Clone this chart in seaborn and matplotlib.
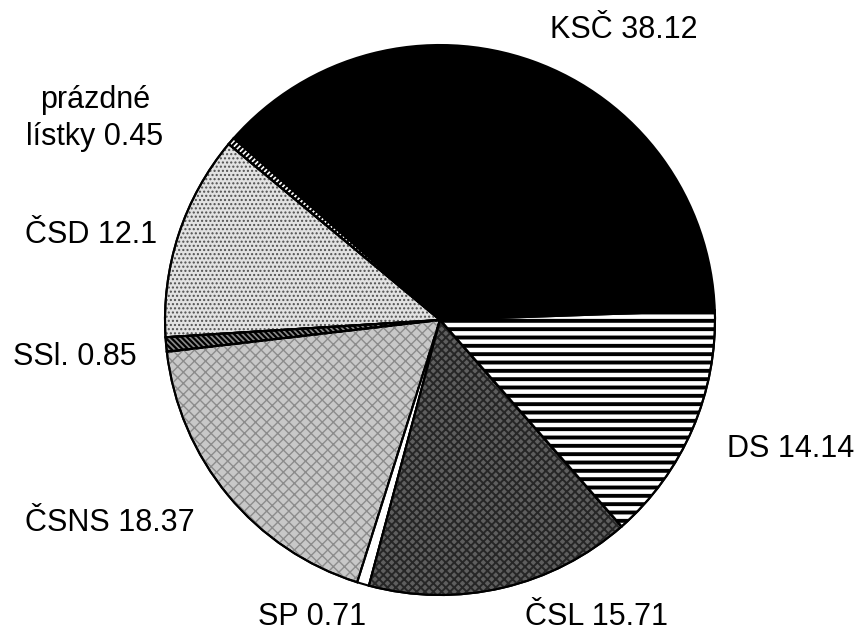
import matplotlib
matplotlib.use("Agg")
import matplotlib.pyplot as plt
from matplotlib.patches import Wedge
import seaborn as sns

# election results 1946 (percent)
parties = ["KSČ", "prázdné\nlístky", "ČSD", "SSl.", "ČSNS", "SP", "ČSL", "DS"]
shares = [38.12, 0.45, 12.1, 0.85, 18.37, 0.71, 15.71, 14.14]

# fill styles per slice: face colour, hatch, hatch colour, hatch line width
faces = ["black", "white", "#e2e2e2", "#8a8a8a", "#c8c8c8", "white", "#5e5e5e", "white"]
hatches = [None, "//////", "....", "\\\\\\\\\\\\", "xxx", None, "xxxx", "--"]
hatch_cols = ["black", "black", "#505050", "black", "#8c8c8c", "black", "#262626", "black"]
hatch_lw = [1.0, 1.6, 1.0, 1.6, 1.0, 1.0, 1.4, 2.8]

# label anchors in pixels (left x, baseline y from the top)
label_pos = [(550, 38), (95, 108), (25, 243), (13, 365), (25, 531), (258, 625), (525, 625), (727, 457)]

W, H = 862, 641
sns.set_theme(style="white")
plt.rcParams["font.family"] = ["Liberation Sans", "DejaVu Sans"]

fig = plt.figure(figsize=(W / 100, H / 100), dpi=100)
ax = fig.add_axes([0, 0, 1, 1])

wedges, _ = ax.pie(shares, colors=faces, startangle=2, counterclock=True,
                   center=(440, H - 320), radius=275,
                   wedgeprops=dict(edgecolor="black", linewidth=1.5))

# pie() resets the limits, so set them afterwards
ax.set_xlim(0, W)
ax.set_ylim(0, H)
ax.set_aspect("equal")
ax.axis("off")

# overlay textures on top of the base fills
for w, h, hc, hl in zip(wedges, hatches, hatch_cols, hatch_lw):
    if h is None:
        continue
    with plt.rc_context({"hatch.linewidth": hl}):
        tex = Wedge(w.center, w.r, w.theta1, w.theta2, facecolor="none",
                    edgecolor=hc, hatch=h, linewidth=0)
    ax.add_patch(tex)
    ax.add_patch(Wedge(w.center, w.r, w.theta1, w.theta2, facecolor="none",
                       edgecolor="black", linewidth=1.5))

for name, val, (x, y) in zip(parties, shares, label_pos):
    if "\n" in name:
        first, second = name.split("\n")
        ax.text(x, H - y, first, fontsize=22, color="black", ha="center", va="baseline")
        ax.text(x, H - y - 37, f"{second} {val}", fontsize=22, color="black",
                ha="center", va="baseline")
    else:
        ax.text(x, H - y, f"{name} {val}", fontsize=22, color="black",
                ha="left", va="baseline")

fig.savefig("out.png", dpi=100, facecolor="white")
